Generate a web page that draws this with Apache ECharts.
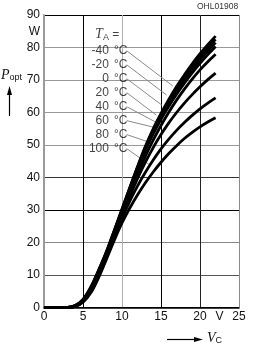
<!DOCTYPE html>
<html>
<head>
<meta charset="utf-8">
<script src="https://cdn.jsdelivr.net/npm/echarts@6/dist/echarts.min.js"></script>
<style>
  html, body { margin: 0; padding: 0; background: #fff; }
  #chart { width: 253px; height: 349px; }
</style>
</head>
<body>
<div id="chart"></div>
<script>
// collector voltage V_C (V)
var voltage = [0, 3, 4, 5, 6, 7, 8, 9, 10, 11, 12, 13, 14, 15, 16, 17, 18, 19, 20, 21, 22];
// optical power P_opt (W) per ambient temperature
var pM40 = [0, 0, 0.6, 2.5, 6.3, 11.5, 17.2, 23.7, 30.3, 36.9, 43.4, 49.6, 55.0, 59.7, 64.0, 68.0, 71.6, 75.0, 78.1, 80.9, 83.5];
var pM20 = [0, 0, 0.6, 2.4, 6.1, 11.3, 17.0, 23.5, 30.1, 36.7, 43.2, 49.3, 54.6, 59.2, 63.4, 67.3, 70.8, 74.1, 77.1, 79.9, 82.5];
var p0 = [0, 0, 0.5, 2.3, 5.9, 11.1, 16.8, 23.3, 29.9, 36.5, 42.9, 48.9, 54.1, 58.6, 62.7, 66.5, 70.0, 73.2, 76.2, 78.9, 81.5];
var p20 = [0, 0, 0.5, 2.2, 5.7, 10.9, 16.6, 23.0, 29.6, 36.1, 42.4, 48.3, 53.4, 57.9, 61.9, 65.6, 69.0, 72.2, 75.1, 77.8, 80.3];
var p40 = [0, 0, 0.4, 2.0, 5.4, 10.5, 16.2, 22.5, 29.0, 35.3, 41.2, 46.6, 51.5, 56.0, 60.1, 63.8, 67.2, 70.3, 73.1, 75.6, 77.9];
var p60 = [0, 0, 0.4, 1.9, 5.1, 10.1, 15.8, 21.9, 28.2, 34.2, 39.7, 44.7, 49.2, 53.2, 56.8, 60.0, 62.9, 65.5, 67.9, 70.1, 72.1];
var p80 = [0, 0, 0.3, 1.8, 4.8, 9.6, 15.4, 21.3, 27.4, 32.7, 37.4, 41.6, 45.4, 48.8, 51.8, 54.5, 56.9, 59.1, 61.1, 62.9, 64.5];
var p100 = [0, 0, 0.3, 1.6, 4.5, 9.2, 14.8, 20.6, 26.0, 30.6, 34.7, 38.4, 41.7, 44.7, 47.4, 49.8, 52.0, 53.9, 55.6, 57.1, 58.4];

// legend labels T_A and where their leader lines go
var tempLabels = ['-40', '-20', '0', '20', '40', '60', '80', '100'];
var labelRowsP = [79.0, 74.7, 70.4, 66.1, 61.8, 57.5, 53.2, 48.9];
var leaderEndV = [16.5, 15.7, 15.1, 14.4, 14.2, 14.0, 13.8, 13.6];
var leaderEndP = [68.2, 65.4, 62.3, 59.2, 57.2, 55.5, 50.6, 43.8];

var xTicks = ['0', '5', '10', '15', '20', '25'];

var curves = [pM40, pM20, p0, p20, p40, p60, p80, p100];
var labelV = 8.45, leaderStartV = 10.6;

var font = 'Liberation Sans';
var T = 'transparent';

var series = curves.map(function (vals, i) {
    return {
        type: 'line',
        name: tempLabels[i] + ' °C',
        data: voltage.map(function (v, j) { return [v, vals[j]]; }),
        smooth: 0.35,
        showSymbol: false,
        silent: true,
        z: 5,
        lineStyle: { color: '#000', width: 2.8 }
    };
});

// leader lines from the labels to the curves
series.push({
    type: 'lines',
    coordinateSystem: 'cartesian2d',
    silent: true,
    z: 3,
    lineStyle: { color: '#8a8a8a', width: 1, opacity: 1 },
    data: tempLabels.map(function (t, i) {
        return { coords: [[leaderStartV, labelRowsP[i]], [leaderEndV[i], leaderEndP[i]]] };
    })
});

// temperature numbers (right aligned) and units
series.push({
    type: 'scatter',
    symbolSize: 0,
    silent: true,
    data: labelRowsP.map(function (p) { return [labelV, p]; }),
    label: {
        show: true, position: 'left', distance: 1,
        fontFamily: font, fontSize: 12, color: '#111',
        formatter: function (p) { return tempLabels[p.dataIndex]; }
    }
});
series.push({
    type: 'scatter',
    symbolSize: 0,
    silent: true,
    data: labelRowsP.map(function (p) { return [labelV, p]; }),
    label: {
        show: true, position: 'right', distance: 4,
        fontFamily: font, fontSize: 12, color: '#111',
        formatter: '°C'
    }
});
// "T_A =" heading
series.push({
    type: 'scatter',
    symbolSize: 0,
    silent: true,
    data: [[6.55, 84.0]],
    label: {
        show: true, position: 'right', distance: 0,
        formatter: '{t|T}{s|A}{e| =}',
        rich: {
            t: { fontFamily: 'Liberation Serif', fontStyle: 'italic', fontSize: 14, color: '#111' },
            s: { fontFamily: font, fontSize: 9, color: '#111', padding: [6, 0, 0, 0] },
            e: { fontFamily: font, fontSize: 12, color: '#111' }
        }
    }
});

var option = {
    animation: false,
    backgroundColor: '#fff',
    grid: { left: 44, right: 14, top: 15, bottom: 41.5 },
    xAxis: {
        type: 'value', min: 0, max: 25, interval: 2.5,
        axisLine: { show: true, lineStyle: { color: '#000', width: 1.5 } },
        axisTick: { show: false },
        axisLabel: {
            margin: 3, fontFamily: font, fontSize: 12, color: '#111',
            formatter: function (v) {
                if (v === 22.5) return 'V';
                if (v % 5 === 0) return xTicks[v / 5];
                return '';
            }
        },
        splitLine: {
            show: true,
            lineStyle: { width: 1, color: ['#000', T, '#000', T, '#b0b0b0', T, '#000', T, '#222', T, '#8a8a8a'] }
        }
    },
    yAxis: {
        type: 'value', min: 0, max: 90, interval: 5,
        axisLine: { show: true, lineStyle: { color: '#9a9a9a', width: 2 } },
        axisTick: { show: false },
        axisLabel: {
            margin: 4, fontFamily: font, fontSize: 12, color: '#111',
            formatter: function (v) {
                if (v === 85) return 'W';
                return v % 10 === 0 ? String(v) : '';
            }
        },
        splitLine: {
            show: true,
            lineStyle: {
                width: 1,
                color: ['#000', T, '#555', T, '#888', T, '#000', T, '#333', T,
                        '#999', T, '#999', T, '#999', T, '#999', T, '#000']
            }
        }
    },
    graphic: [
        { type: 'text', left: 197, top: 2,
          style: { text: 'OHL01908', fontFamily: font, fontSize: 8.5, fill: '#333' } },
        { type: 'text', left: 1, top: 68,
          style: { rich: {
              p: { fontFamily: 'Liberation Serif', fontStyle: 'italic', fontSize: 14, fill: '#111' },
              s: { fontFamily: font, fontSize: 9, fill: '#111', padding: [6, 0, 0, 0] }
          }, text: '{p|P}{s|opt}' } },
        { type: 'line', shape: { x1: 9.5, y1: 116, x2: 9.5, y2: 92 }, style: { stroke: '#000', lineWidth: 1.2 } },
        { type: 'polygon', shape: { points: [[9.5, 86], [7, 95], [12, 95]] }, style: { fill: '#000' } },
        { type: 'line', shape: { x1: 167, y1: 339.5, x2: 196, y2: 339.5 }, style: { stroke: '#000', lineWidth: 1.2 } },
        { type: 'polygon', shape: { points: [[203, 339.5], [194, 337], [194, 342]] }, style: { fill: '#000' } },
        { type: 'text', left: 207, top: 331,
          style: { rich: {
              v: { fontFamily: 'Liberation Serif', fontStyle: 'italic', fontSize: 14, fill: '#111' },
              s: { fontFamily: font, fontSize: 9, fill: '#111', padding: [6, 0, 0, 0] }
          }, text: '{v|V}{s|C}' } }
    ],
    series: series
};

echarts.init(document.getElementById('chart'), null, { renderer: 'canvas' }).setOption(option);
</script>
</body>
</html>
